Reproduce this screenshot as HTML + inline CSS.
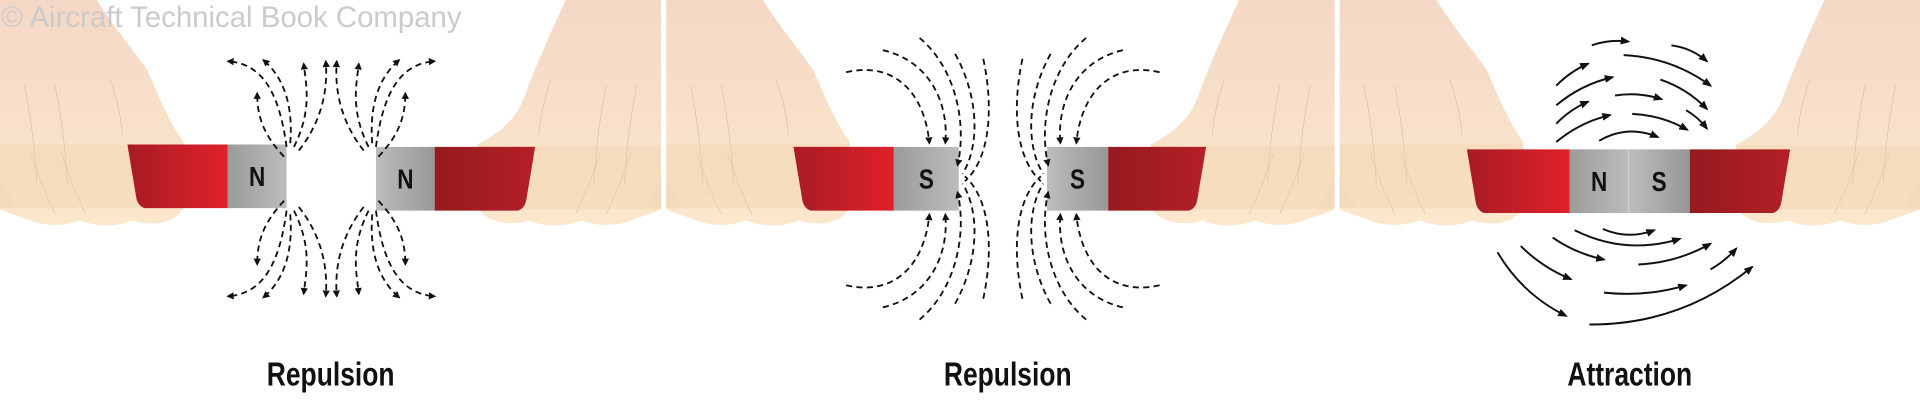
<!DOCTYPE html>
<html><head><meta charset="utf-8"><style>
html,body{margin:0;padding:0;background:#fff;width:1920px;height:401px;overflow:hidden}
svg{display:block}
.lab{font-family:"Liberation Sans Narrow","Liberation Sans",sans-serif;font-weight:bold;font-size:27px;fill:#111}
.pole{font-family:"Liberation Sans Narrow","Liberation Sans",sans-serif;font-weight:bold;font-size:23px;fill:#111}
.d{fill:none;stroke:#111;stroke-width:1.5;stroke-dasharray:5 3.5}
.s{fill:none;stroke:#111;stroke-width:1.6}
</style></head><body>
<svg id="sv" width="1920" height="401" viewBox="0 0 1568 327.5" xmlns="http://www.w3.org/2000/svg">
<defs>
<linearGradient id="skin" x1="0" y1="0" x2="0" y2="1"><stop offset="0" stop-color="#f4d6c3"/><stop offset="1" stop-color="#fbe6c9"/></linearGradient>
<linearGradient id="redL" x1="0" y1="0" x2="1" y2="0"><stop offset="0" stop-color="#a81b23"/><stop offset="1" stop-color="#e0212a"/></linearGradient>
<linearGradient id="redR" x1="0" y1="0" x2="1" y2="0"><stop offset="0" stop-color="#951a1f"/><stop offset="1" stop-color="#b51f27"/></linearGradient>
<linearGradient id="grayA" x1="0" y1="0" x2="1" y2="0"><stop offset="0" stop-color="#9b9b9b"/><stop offset="1" stop-color="#bcbcbc"/></linearGradient>
<linearGradient id="grayB" x1="0" y1="0" x2="1" y2="0"><stop offset="0" stop-color="#bdbdbd"/><stop offset="1" stop-color="#979797"/></linearGradient>
<marker id="ar" viewBox="0 0 10 10" refX="8" refY="5" markerWidth="4" markerHeight="4" orient="auto"><path d="M0,0 L10,5 L0,10 Z" fill="#111"/></marker>
<marker id="ar2" viewBox="0 0 10 10" refX="8" refY="5" markerWidth="5" markerHeight="5" orient="auto"><path d="M0,1 L10,5 L0,9 Z" fill="#111"/></marker>
</defs>
<g id="panels"></g>
<text x="1" y="22" font-family="Liberation Sans, sans-serif" font-size="24" fill="#cbcbcb">© Aircraft Technical Book Company</text>

<g id="p1">
 <g id="p1q">
  <path class="d" marker-end="url(#ar)" d="M234,120 C228,75 214,52 186,50"/>
  <path class="d" marker-end="url(#ar)" d="M237,117 C240,80 228,60 215,49"/>
  <path class="d" marker-end="url(#ar)" d="M232,128 C215,110 210,95 210,76"/>
  <path class="d" marker-end="url(#ar)" d="M240,120 C255,90 250,70 248,52"/>
  <path class="d" marker-end="url(#ar)" d="M244,123 C262,100 268,75 266,50"/>
 </g>
 <use href="#p1q" transform="matrix(-1 0 0 1 541 0)"/>
 <use href="#p1q" transform="matrix(1 0 0 -1 0 292)"/>
 <use href="#p1q" transform="matrix(-1 0 0 -1 541 292)"/>
</g>
<g id="p2">
 <g id="p2q">
  <path class="d" marker-end="url(#ar)" d="M691,59 C730,50 755,75 759,117"/>
  <path class="d" marker-end="url(#ar)" d="M721,41 C760,50 775,85 772,117"/>
  <path class="d" marker-end="url(#ar)" d="M751,31 C780,55 790,100 782,135"/>
  <path class="d" d="M780,44 C800,80 800,120 786,142"/>
  <path class="d" d="M803,48 C812,90 808,130 788,148"/>
 </g>
 <use href="#p2q" transform="matrix(-1 0 0 1 1638 0)"/>
 <use href="#p2q" transform="matrix(1 0 0 -1 0 292)"/>
 <use href="#p2q" transform="matrix(-1 0 0 -1 1638 292)"/>
</g>
<g id="p3"></g>

<text class="lab" transform="translate(270,315) scale(0.8,1)" text-anchor="middle">Repulsion</text>
<text class="lab" transform="translate(823,315) scale(0.8,1)" text-anchor="middle">Repulsion</text>
<text class="lab" transform="translate(1331,315) scale(0.8,1)" text-anchor="middle">Attraction</text>
</svg>
<script>
var NS="http://www.w3.org/2000/svg";
function el(t,a,p){var e=document.createElementNS(NS,t);for(var k in a)e.setAttribute(k,a[k]);(p||document.getElementById('panels')).appendChild(e);return e;}
function hands(s,e){
  el('path',{d:'M'+s+',146 L'+(s+14)+',170 L'+s+',170 Z',fill:'#a9a9a9'});
  el('path',{d:'M'+e+',146 L'+(e-14)+',170 L'+e+',170 Z',fill:'#a9a9a9'});
  var L='M'+s+',0 L'+(s+79)+',0 C'+(s+95)+',25 '+(s+112)+',45 '+(s+120)+',57 C'+(s+128)+',75 '+(s+138)+',100 '+(s+150)+',116 L'+(s+150)+',170 C'+(s+140)+',185 '+(s+122)+',184 '+(s+108)+',180 C'+(s+95)+',186 '+(s+78)+',185 '+(s+65)+',180 C'+(s+50)+',186 '+(s+32)+',184 '+(s+20)+',178 C'+(s+12)+',176 '+(s+5)+',173 '+s+',171 Z';
  el('path',{d:L,fill:'url(#skin)',opacity:'0.95'});
  var R='M'+e+',0 L'+(e-78)+',0 C'+(e-92)+',30 '+(e-105)+',60 '+(e-112)+',80 C'+(e-120)+',100 '+(e-135)+',110 '+(e-150)+',118 L'+(e-150)+',170 C'+(e-140)+',184 '+(e-120)+',184 '+(e-108)+',180 C'+(e-95)+',186 '+(e-78)+',185 '+(e-65)+',180 C'+(e-50)+',186 '+(e-32)+',184 '+(e-20)+',178 C'+(e-12)+',176 '+(e-5)+',173 '+e+',171 Z';
  el('path',{d:R,fill:'url(#skin)',opacity:'0.95'});
  [[20,70,30,150],[45,70,55,150],[90,65,100,110],[25,125,45,175],[50,125,70,175]].forEach(function(q){
    el('path',{d:'M'+(s+q[0])+','+q[1]+' Q'+(s+q[0]+8)+','+((q[1]+q[3])/2)+' '+(s+q[2])+','+q[3],stroke:'#c9ab94','stroke-width':'0.5',fill:'none',opacity:'0.7'});
    el('path',{d:'M'+(e-q[0])+','+q[1]+' Q'+(e-q[0]-8)+','+((q[1]+q[3])/2)+' '+(e-q[2])+','+q[3],stroke:'#c9ab94','stroke-width':'0.5',fill:'none',opacity:'0.7'});
  });
  el('rect',{x:s,y:118,width:150,height:52,fill:'#f0cfa8',opacity:'0.35'});
  el('rect',{x:e-150,y:119,width:150,height:52,fill:'#f0cfa8',opacity:'0.35'});
}
function barL(x1,x2,y){
  el('path',{d:'M'+x1+','+y+' L'+x2+','+y+' L'+x2+','+(y+52)+' L'+(x1+14)+','+(y+52)+' Q'+(x1+8)+','+(y+50)+' '+(x1+7)+','+(y+42)+' Z',fill:'url(#redL)'});
}
function barR(x1,x2,y){
  el('path',{d:'M'+x1+','+y+' L'+x2+','+y+' L'+(x2-7)+','+(y+42)+' Q'+(x2-8)+','+(y+50)+' '+(x2-14)+','+(y+52)+' L'+x1+','+(y+52)+' Z',fill:'url(#redR)'});
}
function box(x,w,y,t,g){el('rect',{x:x,y:y,width:w,height:52,fill:'url(#'+g+')'});var tx=el('text',{transform:'translate('+(x+w/2)+','+(y+34)+') scale(0.8,1)','text-anchor':'middle','class':'pole'});tx.textContent=t;}
hands(0,540);hands(544,1090);hands(1094,1568);
el('rect',{x:540,y:0,width:4,height:190,fill:'#fff'});el('rect',{x:1090,y:0,width:4,height:190,fill:'#fff'});
barL(104,186,118);box(186,48,118,'N','grayA');box(307,48,120,'N','grayB');barR(355,437,120);
barL(648,730,120);box(730,53,120,'S','grayA');box(855,50,120,'S','grayB');barR(905,985,120);
barL(1198,1282,122);box(1282,48,122,'N','grayA');box(1330,50,122,'S','grayB');barR(1380,1462,122);
el('line',{x1:1330,y1:122,x2:1330,y2:174,stroke:'#d0d0d0','stroke-width':'1'});
var G=document.getElementById('p3');
function arc(x1,y1,x2,y2,b){var dx=x2-x1,dy=y2-y1,l=Math.sqrt(dx*dx+dy*dy);var nx=dy/l,ny=-dx/l;var cx=(x1+x2)/2+nx*b*l,cy=(y1+y2)/2+ny*b*l;
 el('path',{d:'M'+x1+','+y1+' Q'+cx+','+cy+' '+x2+','+y2,'class':'s','marker-end':'url(#ar2)'},G);}
var T=[[1300,37,1330,34,.12],[1365,37,1394,50,.15],[1271,70,1297,52,.1],[1326,45,1397,70,.15],[1271,86,1317,63,.12],[1356,65,1394,89,.12],[1271,101,1297,83,.1],[1319,78,1357,81,.12],[1271,116,1315,94,.12],[1333,93,1378,106,.12],[1377,90,1394,105,.1],[1306,115,1354,112,.25],
[1309,187,1351,188,-.2],[1286,188,1372,195,-.2],[1268,194,1310,212,-.1],[1338,216,1397,199,-.12],[1242,201,1283,228,-.1],[1397,220,1418,203,-.08],[1310,239,1377,233,-.1],[1223,206,1279,258,-.15],[1298,265,1431,218,-.18]];
T.forEach(function(a){arc(a[0],a[1],a[2],a[3],a[4]);});
</script>
</body></html>
